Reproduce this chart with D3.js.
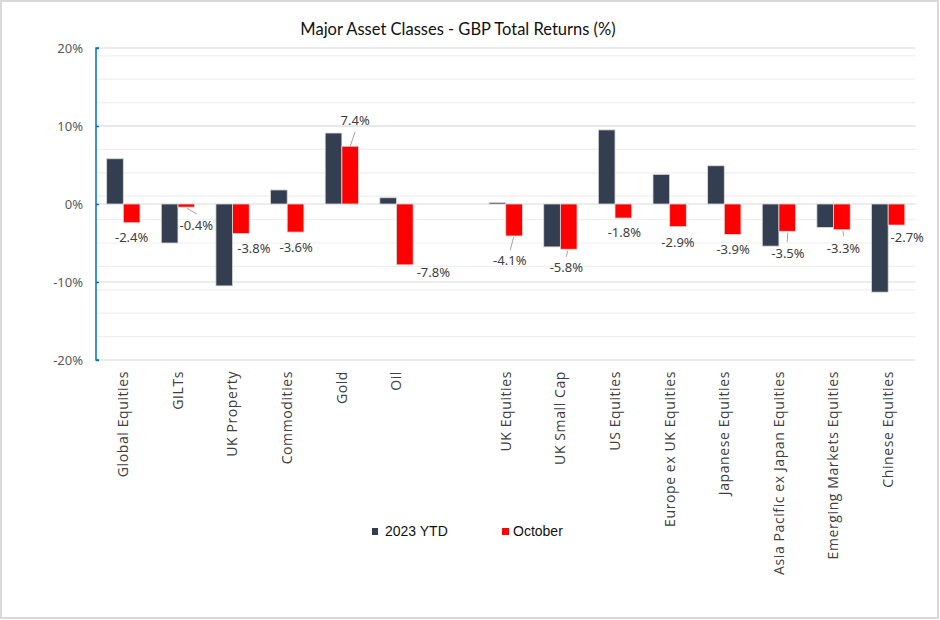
<!DOCTYPE html>
<html>
<head>
<meta charset="utf-8">
<script src="https://cdn.jsdelivr.net/npm/d3@7"></script>
<style>
  body { margin: 0; background: #fff; }
  svg { display: block; }
</style>
</head>
<body>
<svg id="main" width="940" height="620"></svg>
<script>
// categories ("" is the empty slot between the two groups)
var categories = ["Global Equities", "GILTs", "UK Property", "Commodities", "Gold", "Oil", "",
  "UK Equities", "UK Small Cap", "US Equities", "Europe ex UK Equities", "Japanese Equities",
  "Asia Pacific ex Japan Equities", "Emerging Markets Equities", "Chinese Equities"];

var ytd = [5.8, -5.0, -10.5, 1.8, 9.1, 0.8, null, 0.2, -5.5, 9.5, 3.8, 4.9, -5.4, -3.0, -11.3];
var october = [-2.4, -0.4, -3.8, -3.6, 7.4, -7.8, null, -4.1, -5.8, -1.8, -2.9, -3.9, -3.5, -3.3, -2.7];

var seriesNames = ["2023 YTD", "October"];
var yTicks = [-20, -10, 0, 10, 20];
var minorTicks = [-17, -14, -11, -8, -5, -2, 1, 4, 7, 10, 13, 16, 19];

// October data label offsets from the bar end [dx, dy], and leader line (from, to) if any
var labelPos = [
  [0, 15], [10, 18], [13, 15], [0.6, 15], [5, -26], [28.5, 8], null,
  [-4.3, 24], [-2.4, 18], [1, 14.7], [0, 15.4], [0.5, 14.6], [0.7, 22], [1.6, 18.3], [10.7, 12.3]
];
var leaders = {
  1: [0.5, 1, 10.5, 7],
  4: [0, 0, 5, -14.6],
  7: [-0.5, 1.3, -3.8, 14],
  8: [-1, 1.5, -2.4, 7.5],
  12: [0.5, 1.4, 0, 10.7],
  13: [0.9, 1.3, 1.9, 6.3]
};

var colors = ["#333f50", "#ff0000"];

var svg = d3.select("svg#main");
var margin = {left: 96, right: 24.5, top: 48, bottom: 260};
var width = 940 - margin.left - margin.right;
var height = 620 - margin.top - margin.bottom;

// outer frame
svg.append("rect").attr("x", 1).attr("y", 1).attr("width", 937).attr("height", 617)
  .attr("fill", "#fff").attr("stroke", "#d9d9d9").attr("stroke-width", 2);

svg.append("text")
  .attr("x", 458).attr("y", 35)
  .attr("text-anchor", "middle")
  .style("font-family", "Lato, 'Open Sans', sans-serif")
  .style("font-size", "16.5px")
  .style("fill", "#111")
  .text("Major Asset Classes - GBP Total Returns (%)");

var g = svg.append("g").attr("transform", "translate(" + margin.left + "," + margin.top + ")");

var x = d3.scaleBand().domain(d3.range(categories.length)).range([0, width]).padding(0);
var y = d3.scaleLinear().domain([-20, 20]).range([height, 0]);
var barW = x.bandwidth() * 0.305;

// gridlines
g.selectAll("line.minor").data(minorTicks).enter().append("line")
  .attr("class", "minor")
  .attr("x1", 0).attr("x2", width)
  .attr("y1", function (d) { return y(d); }).attr("y2", function (d) { return y(d); })
  .style("stroke", "#efefef").style("stroke-width", 1.2);

g.selectAll("line.major").data(yTicks).enter().append("line")
  .attr("class", "major")
  .attr("x1", 0).attr("x2", width)
  .attr("y1", function (d) { return y(d); }).attr("y2", function (d) { return y(d); })
  .style("stroke", "#d9d9d9").style("stroke-width", 1.2);

// bars
var series = [ytd, october];
series.forEach(function (vals, si) {
  g.selectAll("rect.s" + si)
    .data(vals.map(function (v, i) { return {v: v, i: i}; }).filter(function (d) { return d.v !== null; }))
    .enter().append("rect")
    .attr("class", "s" + si)
    .attr("x", function (d) { return x(d.i) + x.bandwidth() / 2 - barW + si * barW; })
    .attr("width", barW)
    .attr("y", function (d) { return y(Math.max(0, d.v)); })
    .attr("height", function (d) { return Math.abs(y(d.v) - y(0)); })
    .style("fill", colors[si])
    .style("stroke", "#d9d9d9")
    .style("stroke-width", 0.8);
});

// y axis
var yAxis = d3.axisLeft(y).tickValues(yTicks).tickSize(-3).tickPadding(13)
  .tickFormat(function (d) { return (d < 0 ? "-" + (-d) : d) + "%"; });
var ya = g.append("g").call(yAxis);
ya.select(".domain").attr("stroke", "#0070c0").attr("stroke-width", 1.5)
  .attr("d", "M3," + y(20) + "H0V" + y(-20) + "H3");
ya.selectAll(".tick line").attr("stroke", "#0070c0").attr("stroke-width", 1.5);
ya.selectAll(".tick text")
  .style("font-family", "'Noto Sans', sans-serif").style("font-size", "13px").style("fill", "#595959");

// data labels (October)
var labels = g.selectAll("g.dlabel")
  .data(october.map(function (v, i) { return {v: v, i: i}; }).filter(function (d) { return d.v !== null; }))
  .enter().append("g").attr("class", "dlabel");

labels.each(function (d) {
  var p = labelPos[d.i];
  var bx = x(d.i) + x.bandwidth() / 2 + barW / 2;
  var by = y(d.v);
  var sel = d3.select(this);
  var l = leaders[d.i];
  if (l) {
    sel.append("line")
      .attr("x1", bx + l[0]).attr("y1", by + l[1])
      .attr("x2", bx + l[2]).attr("y2", by + l[3])
      .style("stroke", "#a6a6a6").style("stroke-width", 1);
  }
  sel.append("text")
    .attr("x", bx + p[0]).attr("y", by + p[1])
    .attr("dy", "0.35em")
    .attr("text-anchor", "middle")
    .style("font-family", "'Noto Sans', sans-serif").style("font-size", "13px").style("fill", "#404040")
    .text((d.v < 0 ? "-" : "") + Math.abs(d.v).toFixed(1) + "%");
});

// category labels
g.selectAll("text.cat").data(categories).enter().append("text")
  .attr("class", "cat")
  .attr("transform", function (d, i) {
    return "translate(" + (x(i) + x.bandwidth() / 2) + "," + (height + 11) + ") rotate(-90)";
  })
  .attr("dy", "0.35em")
  .attr("text-anchor", "end")
  .style("font-family", "'Open Sans', sans-serif").style("font-size", "14px")
  .style("letter-spacing", "0.6px").style("fill", "#404040")
  .text(function (d) { return d; });

// legend
var legend = svg.append("g").attr("transform", "translate(0,531)");
var legX = [372, 502];
var legW = [6, 7];
var legTextX = [385, 513];
seriesNames.forEach(function (name, i) {
  legend.append("rect").attr("x", legX[i]).attr("y", -3).attr("width", legW[i]).attr("height", 7)
    .style("fill", colors[i]);
  legend.append("text").attr("x", legTextX[i]).attr("y", 0).attr("dy", "0.35em")
    .style("font-family", "'Liberation Sans Narrow', 'Arial Narrow', sans-serif")
    .style("font-size", "14px").style("fill", "#111")
    .text(name);
});
</script>
</body>
</html>
